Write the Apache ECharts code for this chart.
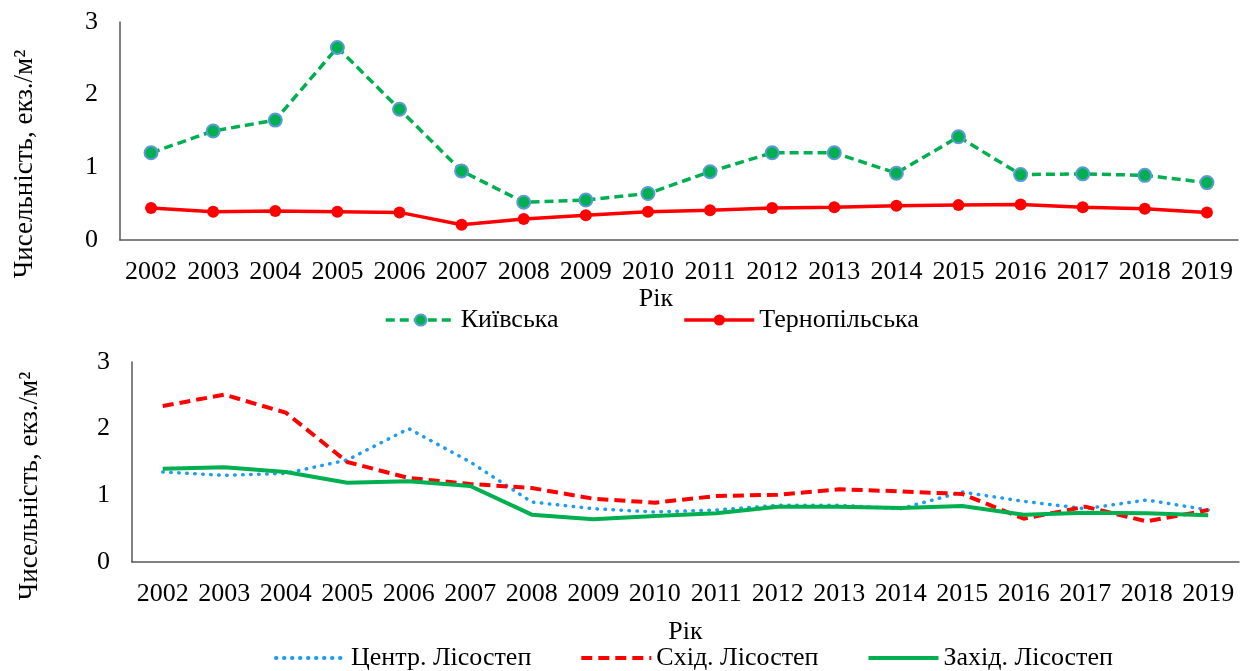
<!DOCTYPE html>
<html>
<head>
<meta charset="utf-8">
<title>Чисельність</title>
<script src="https://cdn.jsdelivr.net/npm/echarts@6/dist/echarts.min.js"></script>
<style>
    html, body { margin: 0; padding: 0; background: #fff; }
    #main { width: 1243px; height: 671px; }
</style>
</head>
<body>
<div id="main"></div>
<script>
// роки
var years = ['2002', '2003', '2004', '2005', '2006', '2007', '2008', '2009', '2010',
    '2011', '2012', '2013', '2014', '2015', '2016', '2017', '2018', '2019'];
var yTicks = [0, 1, 2, 3];

// верхній графік - області
var kyivska = [1.20, 1.50, 1.65, 2.65, 1.80, 0.95, 0.52, 0.55, 0.64,
    0.94, 1.20, 1.20, 0.92, 1.42, 0.90, 0.91, 0.89, 0.79];
var ternopilska = [0.44, 0.39, 0.40, 0.39, 0.38, 0.21, 0.29, 0.34, 0.39,
    0.41, 0.44, 0.45, 0.47, 0.48, 0.49, 0.45, 0.43, 0.38];

// нижній графік - зони лісостепу
var tsentr = [1.35, 1.30, 1.33, 1.53, 2.00, 1.50, 0.90, 0.80, 0.75,
    0.78, 0.85, 0.85, 0.80, 1.05, 0.91, 0.80, 0.93, 0.78];
var skhid = [2.34, 2.51, 2.24, 1.50, 1.26, 1.17, 1.11, 0.95, 0.89,
    0.99, 1.01, 1.09, 1.06, 1.02, 0.65, 0.83, 0.61, 0.78];
var zakhid = [1.40, 1.42, 1.35, 1.19, 1.21, 1.14, 0.71, 0.64, 0.69,
    0.73, 0.83, 0.83, 0.81, 0.84, 0.71, 0.74, 0.73, 0.70];

var FONT = '"Liberation Serif", "Times New Roman", serif';
var AXIS_COLOR = '#595959';
var Y_NAME = 'Чисельність, екз./м²';

function xAxisOf (gridIndex, nameGap, namePad) {
    return {
        type: 'category',
        gridIndex: gridIndex,
        data: years,
        boundaryGap: true,
        name: 'Рік',
        nameLocation: 'middle',
        nameGap: nameGap,
        nameTextStyle: { color: '#000', fontFamily: FONT, fontSize: 26, padding: namePad },
        axisLine: { lineStyle: { color: AXIS_COLOR, width: 1.5 } },
        axisTick: { show: false },
        axisLabel: { color: '#000', fontFamily: FONT, fontSize: 26, margin: 19, interval: 0 },
        splitLine: { show: false }
    };
}

function yAxisOf (gridIndex) {
    return {
        type: 'value',
        gridIndex: gridIndex,
        min: yTicks[0],
        max: yTicks[yTicks.length - 1],
        interval: 1,
        axisLine: { show: true, lineStyle: { color: AXIS_COLOR, width: 1.5 } },
        axisTick: { show: false },
        axisLabel: { color: '#000', fontFamily: FONT, fontSize: 26, margin: 22 },
        splitLine: { show: false }
    };
}

// підпис осі Y (повернутий)
function yNameOf (x, y) {
    return {
        type: 'text',
        x: x,
        y: y,
        rotation: Math.PI / 2,
        style: {
            text: Y_NAME,
            font: '27px ' + FONT,
            fill: '#000',
            align: 'center',
            verticalAlign: 'middle'
        }
    };
}

var chart = echarts.init(document.getElementById('main'));
var option = {
    animation: false,
    backgroundColor: '#fff',
    grid: [
        { left: 120, top: 22, width: 1118, height: 218 },
        { left: 132, top: 362, width: 1107, height: 200 }
    ],
    xAxis: [xAxisOf(0, 43, [0, 46, 0, 0]), xAxisOf(1, 57, 0)],
    yAxis: [yAxisOf(0), yAxisOf(1)],
    legend: [
        {
            data: ['Київська', 'Тернопільська'],
            left: 384,
            top: 307,
            padding: 0,
            itemWidth: 70,
            itemHeight: 14,
            itemGap: 124,
            lineStyle: { width: 3.5 },
            textStyle: { color: '#000', fontFamily: FONT, fontSize: 26 }
        },
        {
            data: ['Центр. Лісостеп', 'Схід. Лісостеп', 'Захід. Лісостеп'],
            left: 274,
            top: 645,
            padding: 0,
            itemWidth: 70,
            itemHeight: 14,
            itemGap: 48,
            itemStyle: { opacity: 0 },
            lineStyle: { width: 4 },
            textStyle: { color: '#000', fontFamily: FONT, fontSize: 26 }
        }
    ],
    graphic: [yNameOf(25, 164), yNameOf(30, 486)],
    series: [
        {
            name: 'Київська',
            type: 'line',
            xAxisIndex: 0,
            yAxisIndex: 0,
            data: kyivska,
            symbol: 'circle',
            symbolSize: 13,
            lineStyle: { color: '#00B050', width: 3.5, type: [9, 5] },
            itemStyle: { color: '#00B050', borderColor: '#5B9BD5', borderWidth: 2 }
        },
        {
            name: 'Тернопільська',
            type: 'line',
            xAxisIndex: 0,
            yAxisIndex: 0,
            data: ternopilska,
            symbol: 'circle',
            symbolSize: 12,
            lineStyle: { color: '#FF0000', width: 3.5 },
            itemStyle: { color: '#FF0000', borderWidth: 0 }
        },
        {
            name: 'Центр. Лісостеп',
            type: 'line',
            xAxisIndex: 1,
            yAxisIndex: 1,
            data: tsentr,
            showSymbol: false,
            lineStyle: { color: '#1E9BF5', width: 3.5, type: [0.5, 7.5], cap: 'round' },
            itemStyle: { color: '#1E9BF5' }
        },
        {
            name: 'Схід. Лісостеп',
            type: 'line',
            xAxisIndex: 1,
            yAxisIndex: 1,
            data: skhid,
            showSymbol: false,
            lineStyle: { color: '#FF0000', width: 4, type: [11, 6] },
            itemStyle: { color: '#FF0000' }
        },
        {
            name: 'Захід. Лісостеп',
            type: 'line',
            xAxisIndex: 1,
            yAxisIndex: 1,
            data: zakhid,
            showSymbol: false,
            lineStyle: { color: '#00B050', width: 4 },
            itemStyle: { color: '#00B050' }
        }
    ]
};
chart.setOption(option);
</script>
</body>
</html>
